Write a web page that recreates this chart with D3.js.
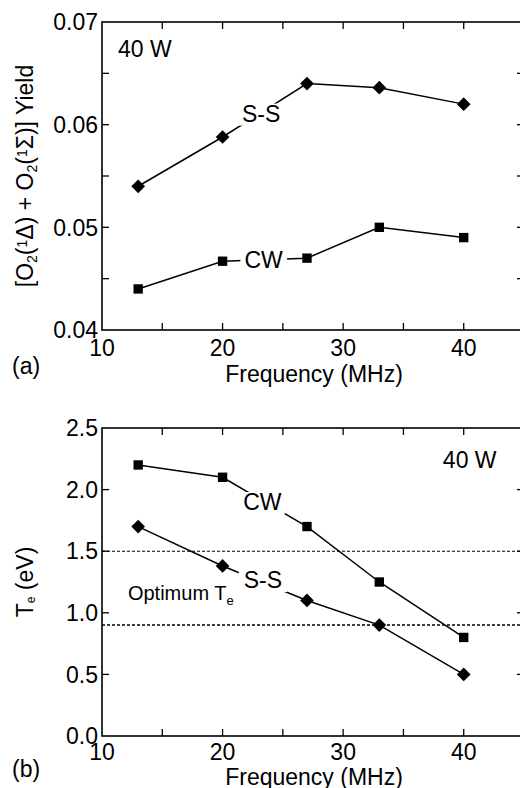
<!DOCTYPE html>
<html>
<head>
<meta charset="utf-8">
<script src="https://cdn.jsdelivr.net/npm/d3@7"></script>
<style>
  body { margin: 0; background: #fff; }
  svg { display: block; font-family: "Liberation Sans", Arial, sans-serif; }
</style>
</head>
<body>
<div class="box"></div>
<script>
// donnees
const freq = [13, 20, 27, 33, 40];
const yieldSS = [0.054, 0.0588, 0.064, 0.0636, 0.062];
const yieldCW = [0.044, 0.0467, 0.047, 0.050, 0.049];
const teCW = [2.2, 2.1, 1.7, 1.25, 0.8];
const teSS = [1.7, 1.38, 1.1, 0.9, 0.5];
const teOptimum = [1.5, 0.9];
const xTicks = [10, 20, 30, 40];
const yieldTicks = [0.04, 0.05, 0.06, 0.07];
const teTicks = [0, 0.5, 1.0, 1.5, 2.0, 2.5];

const W = 520, H = 788;
const svg = d3.select('.box')
              .append('svg')
              .attr('width', W)
              .attr('height', H);

const left = 102, right = 524;
const fs = 23;

const x = d3.scaleLinear().domain([10, 45]).range([left, right]);
const yA = d3.scaleLinear().domain([0.04, 0.07]).range([330, 22]);
const yB = d3.scaleLinear().domain([0, 2.5]).range([736, 428]);

const diamond = d3.symbol().type(d3.symbolDiamond2).size(120);
const square = d3.symbol().type(d3.symbolSquare2).size(112);

// cadre + graduations vers l'interieur
const frame = (y, minorY, labelY, fmt, tickBaseline, titleBaseline) => {
    const g = svg.append('g');
    const [y0, y1] = y.range();
    g.append('rect')
     .attr('x', left).attr('y', y1)
     .attr('width', right - left).attr('height', y0 - y1)
     .attr('fill', 'none').attr('stroke', '#000').attr('stroke-width', 1.6);

    const tl = 7;
    d3.range(15, 45, 5).forEach(v => {
        g.append('line').attr('x1', x(v)).attr('x2', x(v)).attr('y1', y0).attr('y2', y0 - tl)
         .attr('stroke', '#000').attr('stroke-width', 1.3);
        g.append('line').attr('x1', x(v)).attr('x2', x(v)).attr('y1', y1).attr('y2', y1 + tl)
         .attr('stroke', '#000').attr('stroke-width', 1.3);
    });
    minorY.forEach(v => {
        g.append('line').attr('x1', left).attr('x2', left + tl).attr('y1', y(v)).attr('y2', y(v))
         .attr('stroke', '#000').attr('stroke-width', 1.3);
        g.append('line').attr('x1', right).attr('x2', right - tl).attr('y1', y(v)).attr('y2', y(v))
         .attr('stroke', '#000').attr('stroke-width', 1.3);
    });
    labelY.forEach(v => {
        g.append('text').attr('x', left - 4).attr('y', y(v)).attr('dy', '0.36em')
         .attr('text-anchor', 'end').attr('font-size', fs).text(fmt(v));
    });
    xTicks.forEach(v => {
        g.append('text').attr('x', x(v)).attr('y', y0 + tickBaseline)
         .attr('text-anchor', 'middle').attr('font-size', fs).text(v);
    });
    g.append('text').attr('x', (left + right) / 2 + 1).attr('y', y0 + titleBaseline)
     .attr('text-anchor', 'middle').attr('font-size', fs).text('Frequency (MHz)');
};

frame(yA, d3.range(0.045, 0.0699, 0.005), yieldTicks, d3.format('.2f'), 25.5, 52);
frame(yB, teTicks.slice(1, -1), teTicks, d3.format('.1f'), 24, 48.5);

// lignes pointillees de Te optimum
teOptimum.forEach((v, i) => {
    svg.append('line').attr('x1', left).attr('x2', right).attr('y1', yB(v)).attr('y2', yB(v))
       .attr('stroke', '#000').attr('stroke-width', i ? 1.5 : 1.1)
       .attr('stroke-dasharray', '3,2');
});

const line = (y) => d3.line().x((d, i) => x(freq[i])).y(d => y(d));

const serie = (vals, y) => {
    svg.append('path').datum(vals).attr('d', line(y))
       .attr('fill', 'none').attr('stroke', '#000').attr('stroke-width', 1.5);
};
serie(yieldSS, yA);
serie(yieldCW, yA);
serie(teCW, yB);
serie(teSS, yB);

// etiquettes qui coupent les lignes
const label = (txt, fx, val, y, pad) => {
    const g = svg.append('g');
    const r = g.append('rect').attr('fill', '#fff');
    const t = g.append('text').attr('x', x(fx)).attr('y', y(val))
               .attr('text-anchor', 'middle').attr('font-size', fs).text(txt);
    const b = t.node().getBBox();
    r.attr('x', b.x - pad).attr('y', b.y + 3).attr('width', b.width + 2 * pad).attr('height', b.height - 4);
};
label('S-S', 23.2, 0.0603, yA, 3);
label('CW', 23.4, 0.04605, yA, 4);
label('CW', 23.3, 1.834, yB, 3);
label('S-S', 23.35, 1.201, yB, 5);

const marks = (vals, y, sym) => {
    svg.append('g').selectAll('path').data(vals).join('path')
       .attr('d', sym)
       .attr('transform', (d, i) => `translate(${x(freq[i])},${y(d)})`)
       .attr('fill', '#000');
};
marks(yieldSS, yA, diamond);
marks(yieldCW, yA, square);
marks(teCW, yB, square);
marks(teSS, yB, diamond);

// textes
svg.append('text').attr('x', x(11.33)).attr('y', yA(0.0666)).attr('font-size', fs).text('40 W');
svg.append('text').attr('x', x(38.27)).attr('y', yB(2.175)).attr('font-size', fs).text('40 W');

const opt = svg.append('text').attr('x', x(12.15)).attr('y', yB(1.105)).attr('font-size', 20);
opt.append('tspan').text('Optimum T');
opt.append('tspan').attr('font-size', 13).attr('dy', 5).text('e');

svg.append('text').attr('x', 12).attr('y', 374).attr('font-size', fs).text('(a)');
svg.append('text').attr('x', 12).attr('y', 777).attr('font-size', fs).text('(b)');

// titres des axes y
const ylab = svg.append('text')
                .attr('transform', `translate(33, ${(yA.range()[0] + yA.range()[1]) / 2}) rotate(-90)`)
                .attr('text-anchor', 'middle').attr('font-size', fs);
const part = (t, shift, size) => {
    const s = ylab.append('tspan').text(t);
    if (shift) s.attr('baseline-shift', shift).attr('font-size', size);
};
part('[O');
part('2', '-25%', 14);
part('(');
part('1', '45%', 14);
part('Δ) + O');
part('2', '-25%', 14);
part('(');
part('1', '45%', 14);
part('Σ)] Yield');

const tlab = svg.append('text')
                .attr('transform', `translate(33, ${(yB.range()[0] + yB.range()[1]) / 2}) rotate(-90)`)
                .attr('text-anchor', 'middle').attr('font-size', fs);
tlab.append('tspan').text('T');
tlab.append('tspan').attr('font-size', 12).attr('baseline-shift', '-20%').text('e');
tlab.append('tspan').text(' (eV)');
</script>
</body>
</html>
